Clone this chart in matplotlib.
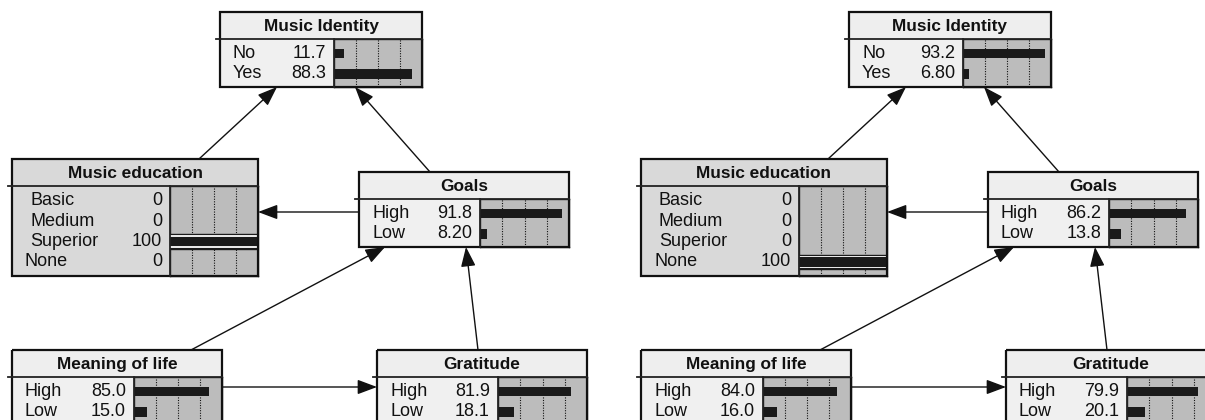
import matplotlib
matplotlib.use("Agg")
import matplotlib.pyplot as plt
from matplotlib.patches import Rectangle

plt.rcParams['font.family'] = ['Liberation Sans', 'DejaVu Sans']

# ---- data ----
identity_states = ['No', 'Yes']
education_states = ['Basic', 'Medium', 'Superior', 'None']
two_states = ['High', 'Low']

identity_left = [11.7, 88.3]
education_left = [0, 0, 100, 0]
goals_left = [91.8, 8.20]
meaning_left = [85.0, 15.0]
gratitude_left = [81.9, 18.1]

identity_right = [93.2, 6.80]
education_right = [0, 0, 0, 100]
goals_right = [86.2, 13.8]
meaning_right = [84.0, 16.0]
gratitude_right = [79.9, 20.1]

# ---- layout (pixels, left network; right one is shifted) ----
W, H = 1205, 420
SHIFT = 629
TITLE_H = 27
PITCH = 20.5
# name: (x, y, w, h, panel offset)
boxes = {
    'Music Identity':  (220, 12, 202, 75, 114),
    'Music education': (12, 159, 246, 117, 158),
    'Goals':           (359, 172, 210, 75, 121),
    'Meaning of life': (12, 350, 210, 75, 122),
    'Gratitude':       (377, 350, 210, 75, 121),
}
edu_indent = [18, 18, 18, 13]
edges = [((199, 159), (277, 87)),
         ((430, 172), (355, 87)),
         ((359, 212), (258, 212)),
         ((191, 350), (385, 247)),
         ((478, 350), (466, 247)),
         ((222, 387), (377, 387))]

TITLE_BG = '#eeeeee'
BODY_BG = '#f0f0f0'
EVID_BG = '#d9d9d9'
PANEL_BG = '#bcbcbc'
BAR = '#1a1a1a'
FS = 13
FS_TITLE = 12.4


def fmt(v):
    if v == 0:
        return '0'
    if v >= 100:
        return '100'
    return '%.1f' % v if v >= 10 else '%.2f' % v


fig = plt.figure(figsize=(W / 100, H / 100), dpi=100)
ax = fig.add_axes([0, 0, 1, 1])
ax.set_xlim(0, W)
ax.set_ylim(H, 0)
ax.axis('off')
ax.set_zorder(5)
ax.patch.set_visible(False)


def draw_node(name, states, vals, dx, evidence=False):
    x, y, w, h, po = boxes[name]
    x += dx
    bg = EVID_BG if evidence else TITLE_BG
    body = EVID_BG if evidence else BODY_BG
    tb = y + TITLE_H
    px = x + po
    ax.add_patch(Rectangle((x, y), w, TITLE_H, fc=bg, ec='none'))
    ax.add_patch(Rectangle((x, tb), po, h - TITLE_H, fc=body, ec='none'))
    ax.text(x + w / 2, y + TITLE_H / 2 + 1, name, ha='center', va='center',
            fontsize=FS_TITLE, fontweight='bold', color='#111111')
    # bar panel
    pax = fig.add_axes([px / W, 1 - (y + h) / H, (x + w - px) / W, (h - TITLE_H) / H])
    pax.set_facecolor(PANEL_BG)
    top = -14.5 / PITCH
    pax.set_ylim(top + (h - TITLE_H) / PITCH, top)
    pax.set_xlim(0, 100)
    for g in (25, 50, 75):
        pax.axvline(g, color='#111111', lw=0.8, ls=(0, (1, 1.3)), zorder=1)
    for i, v in enumerate(vals):
        if evidence and v >= 100:
            pax.axhspan(i - 0.36, i + 0.36, color=BAR, zorder=3)
            pax.axhline(i - 0.26, color='white', lw=1.3, zorder=4)
            pax.axhline(i + 0.26, color='white', lw=1.3, zorder=4)
    pax.barh(range(len(vals)), vals, height=0.45, color=BAR, zorder=5)
    pax.set_xticks([])
    pax.set_yticks([])
    for s in pax.spines.values():
        s.set_color('#222222')
        s.set_linewidth(1.0)
    # state labels and values
    for i, (st, v) in enumerate(zip(states, vals)):
        ty = tb + 14.5 + i * PITCH
        ind = edu_indent[i] if name == 'Music education' else 13
        ax.text(x + ind, ty, st, ha='left', va='center', fontsize=FS, color='#111111')
        ax.text(px - 8, ty, fmt(v), ha='right', va='center', fontsize=FS, color='#111111')
    # borders
    ax.plot([x - 4, x + w], [tb, tb], color='#222222', lw=1.3)
    ax.plot([px, px], [tb, y + h], color='#222222', lw=1.3)
    ax.add_patch(Rectangle((x, y), w, h, fc='none', ec='#111111', lw=1.6))


def draw_net(dx, ident, edu, goals, meaning, grat):
    draw_node('Music Identity', identity_states, ident, dx)
    draw_node('Music education', education_states, edu, dx, evidence=True)
    draw_node('Goals', two_states, goals, dx)
    draw_node('Meaning of life', two_states, meaning, dx)
    draw_node('Gratitude', two_states, grat, dx)
    for (x0, y0), (x1, y1) in edges:
        ax.annotate('', xy=(x1 + dx, y1), xytext=(x0 + dx, y0),
                    arrowprops=dict(arrowstyle='-|>,head_length=0.8,head_width=0.3',
                                    color='#111111', lw=1.0, shrinkA=0, shrinkB=0,
                                    mutation_scale=15))


draw_net(0, identity_left, education_left, goals_left, meaning_left, gratitude_left)
draw_net(SHIFT, identity_right, education_right, goals_right, meaning_right, gratitude_right)

fig.savefig('out.png', dpi=100, facecolor='white')
